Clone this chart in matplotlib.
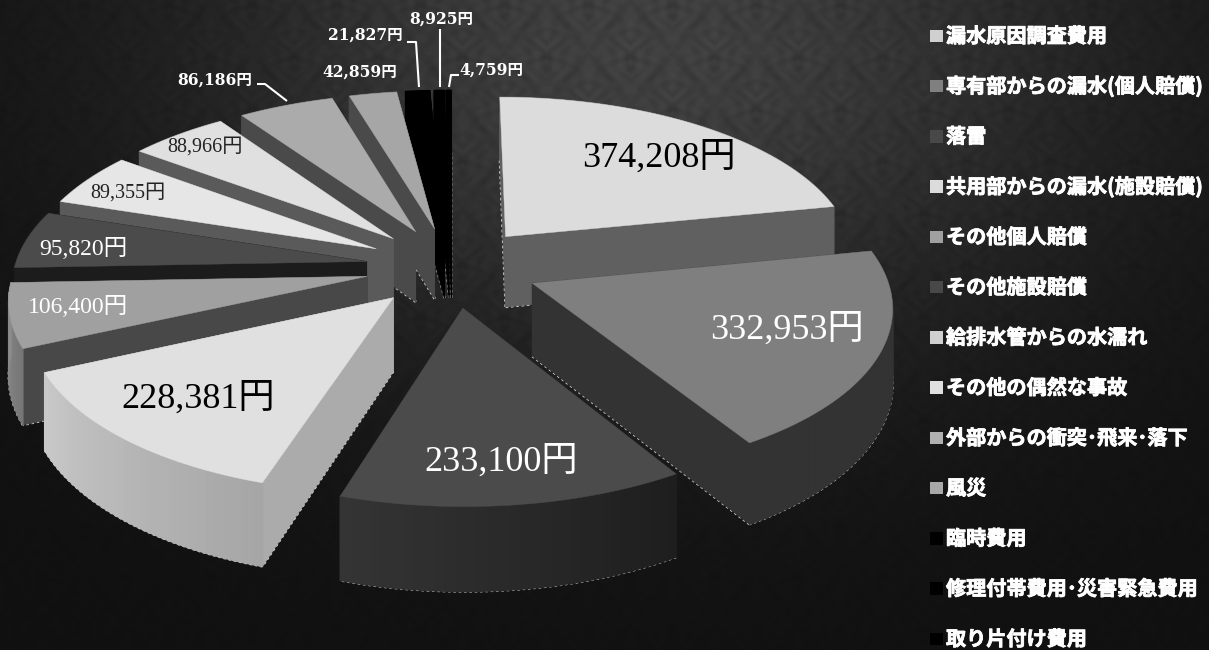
import numpy as np
import matplotlib
matplotlib.use('Agg')
import matplotlib.pyplot as plt
from matplotlib import patheffects
from matplotlib.colors import to_rgb
from matplotlib.patches import Polygon, Rectangle

categories = ['漏水原因調査費用', '専有部からの漏水(個人賠償)', '落雷', '共用部からの漏水(施設賠償)',
              'その他個人賠償', 'その他施設賠償', '給排水管からの水濡れ', 'その他の偶然な事故',
              '外部からの衝突･飛来･落下', '風災', '臨時費用', '修理付帯費用･災害緊急費用', '取り片付け費用']
values = [374208, 332953, 233100, 228381, 106400, 95820, 89355, 88966, 86186, 42859, 21827, 8925, 4759]

top_colors = ['#dcdcdc', '#7f7f7f', '#4b4b4b', '#e0e0e0', '#a0a0a0', '#4b4b4b', '#e6e6e6',
              '#e0e0e0', '#ababab', '#a6a6a6', '#000000', '#000000', '#000000']
side_colors = ['#606060', '#333333', '#222222', '#ababab', '#484848', '#1c1c1c', '#5a5a5a',
               '#5a5a5a', '#4a4a4a', '#4a4a4a', '#000000', '#000000', '#000000']
rim_start = ['#606060', '#333333', '#1e1e1e', '#a6a6a6', '#777777', '#1c1c1c', '#5a5a5a',
             '#5a5a5a', '#4a4a4a', '#4a4a4a', '#000000', '#000000', '#000000']
rim_end = ['#606060', '#333333', '#343434', '#c8c8c8', '#8c8c8c', '#1c1c1c', '#5a5a5a',
           '#5a5a5a', '#4a4a4a', '#4a4a4a', '#000000', '#000000', '#000000']
legend_colors = ['#d0d0d0', '#808080', '#484848', '#dcdcdc', '#a0a0a0', '#484848', '#d0d0d0',
                 '#e0e0e0', '#b0b0b0', '#a8a8a8', '#000000', '#000000', '#000000']

W, H = 1209, 650
CX, CY = 452, 267
RX, RY = 352, 163.4
PERSP = 0.122
EXPLODE = 0.2457
DEPTH = 72

serif = ['Liberation Serif', 'Noto Sans CJK JP']
slab = ['DejaVu Serif', 'Noto Sans CJK JP']
jp = ['Noto Sans CJK JP', 'DejaVu Sans']


def project(x, y, drop=0.0):
    # y is positive towards the viewer
    s = 1 / (1 - PERSP * y)
    return CX + RX * x * s, CY + RY * y * s + drop * s


def damask(xx, yy):
    # staggered flower motif, mirrored left to right
    out = np.zeros_like(xx, dtype=float)
    for ox, oy in [(0, 0), (42, 52)]:
        dx = np.abs((xx - ox + 42) % 84 - 42)
        dy = (yy - oy + 52) % 104 - 52
        r = np.hypot(dx, dy * 0.8)
        petals = np.sin(dx / 3.1 + np.cos(dy / 5.0) * 1.7) * np.sin(dy / 3.7 + dx / 9.0)
        out += (0.5 + 0.5 * petals) * np.exp(-(r / 27.0) ** 2)
        out += 0.2 * np.exp(-((dx / 42 + np.abs(dy) / 52 - 1) * 7) ** 2)
    return out


def background():
    yy, xx = np.mgrid[0:H, 0:W].astype(float)
    glow = np.exp(-(((xx - 650) / 470.0) ** 2 + ((yy - 40) / 320.0) ** 2))
    base = 15 + 52 * glow
    img = base - damask(xx, yy) * (1.5 + 13 * glow)
    return np.clip(img + 2, 0, 255)


def blend(c0, c1, f):
    a, b = np.array(to_rgb(c0)), np.array(to_rgb(c1))
    return tuple(a + (b - a) * f)


fig = plt.figure(figsize=(W / 100, H / 100), dpi=100)
ax = fig.add_axes([0, 0, 1, 1])
ax.set_xlim(0, W)
ax.set_ylim(H, 0)
ax.axis('off')
ax.imshow(background(), cmap='gray', vmin=0, vmax=255, extent=[0, W, H, 0], aspect='auto', zorder=0,
          interpolation='bilinear')

fractions = np.array(values, dtype=float) / sum(values)
edges = np.concatenate([[0], np.cumsum(fractions)]) * 2 * np.pi

slices = []
for i in range(len(values)):
    a0, a1 = edges[i], edges[i + 1]
    mid = (a0 + a1) / 2
    ox, oy = EXPLODE * np.sin(mid), -EXPLODE * np.cos(mid)
    t = np.linspace(a0, a1, max(8, int((a1 - a0) * 40)))
    slices.append((oy, i, ox, oy, t))

# far slices first so nearer ones paint over them
for _, i, ox, oy, t in sorted(slices, key=lambda s: s[0]):
    xs = ox + np.sin(t)
    ys = oy - np.cos(t)
    apex_top = project(ox, oy)
    apex_low = project(ox, oy, DEPTH)
    rim_top = np.array([project(x, y) for x, y in zip(xs, ys)])
    rim_low = np.array([project(x, y, DEPTH) for x, y in zip(xs, ys)])
    z = 2 + oy

    # dashed bottom edge sits under the walls, so only its outer half shows
    edge_c = '#d0d0d0' if i < 10 else '#8a8a8a'
    ax.plot(rim_low[:, 0], rim_low[:, 1], color=edge_c, lw=1.6, ls=(0, (1.2, 1.2)), zorder=z)
    for end in (0, -1):
        ax.plot([apex_low[0], rim_low[end][0]], [apex_low[1], rim_low[end][1]], color=edge_c, lw=1.6, ls=(0, (1.2, 1.2)), zorder=z)
    for end in (0, -1):
        ax.add_patch(Polygon([apex_top, rim_top[end], rim_low[end], apex_low], fc=side_colors[i], ec=side_colors[i], lw=0.5, zorder=z + 0.001))
    for j in range(len(t) - 1):
        c = blend(rim_start[i], rim_end[i], j / max(1, len(t) - 2))
        ax.add_patch(Polygon([rim_top[j], rim_top[j + 1], rim_low[j + 1], rim_low[j]], fc=c, ec=c, lw=1.0, zorder=z + 0.002))
    ax.add_patch(Polygon(np.vstack([[apex_top], rim_top]), fc=top_colors[i], ec=top_colors[i], lw=0.3, zorder=z + 0.003))

# value labels on the slices
big = [(659, 158, '#000000', 26), (787, 330, '#ffffff', 26), (501, 462, '#ffffff', 26), (198, 399, '#000000', 26),
       (78, 307, '#ffffff', 17), (83, 249, '#ffffff', 17), (128, 193, '#222222', 14.5), (205, 147, '#222222', 14.5)]
for (x, y, c, fs), v in zip(big, values):
    ax.text(x, y, f'{v:,}円', color=c, fontsize=fs, family=serif, ha='center', va='center', zorder=10)

# small slices carry their labels outside, with leader lines
outside = [(215, 80, 86186), (360, 72, 42859), (365, 35, 21827), (441.5, 19, 8925), (491.5, 70, 4759)]
for x, y, v in outside:
    ax.text(x, y, f'{v:,}円', color='white', fontsize=11.2, fontweight='bold', family=slab, ha='center', va='center', zorder=10)

leaders = [([257, 265, 287], [84, 84, 101]), ([407, 416, 419], [42, 42, 87]),
           ([440, 440], [29, 87]), ([449, 451, 459], [87, 75, 75])]
for lx, ly in leaders:
    ax.plot(lx, ly, color='white', lw=1.5, zorder=10, solid_capstyle='butt')

# legend column
for k, name in enumerate(categories):
    y = 36 + k * 50.25
    ax.add_patch(Rectangle((930, y - 6.5), 12.5, 12.5, fc=legend_colors[k], ec='none', zorder=10))
    t = ax.text(946, y, name, color='white', fontsize=14.5, fontweight='bold', family=jp, ha='left', va='center', zorder=10)
    t.set_path_effects([patheffects.withStroke(linewidth=0.6, foreground='white')])

fig.savefig('out.png', dpi=100)
